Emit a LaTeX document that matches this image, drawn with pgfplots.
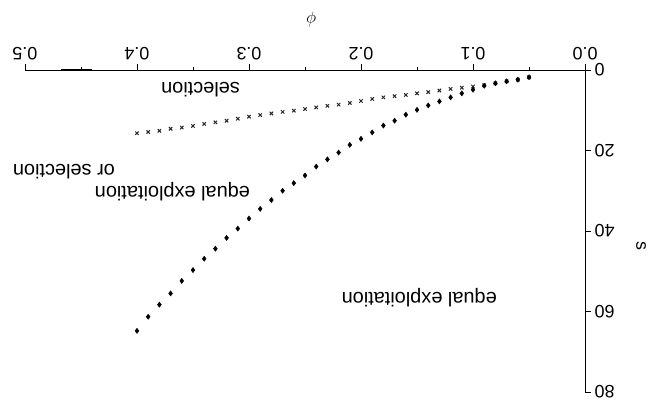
\documentclass[border=0pt]{standalone}
\usepackage{pgfplots}
\pgfplotsset{compat=1.18}
\usepackage{fontspec}
\setmainfont{Liberation Sans}

\pgfplotstableread{
phi s
0.05 1.8
0.06 2.4
0.07 2.8
0.08 3.3
0.09 3.8
0.10 4.1
0.11 4.4
0.12 4.7
0.13 5.1
0.14 5.5
0.15 5.8
0.16 6.2
0.17 6.5
0.18 6.8
0.19 7.2
0.20 7.7
0.21 8.2
0.22 8.6
0.23 8.9
0.24 9.3
0.25 9.7
0.26 10.1
0.27 10.4
0.28 10.8
0.29 11.2
0.30 11.6
0.31 12.1
0.32 12.6
0.33 13.0
0.34 13.4
0.35 13.9
0.36 14.3
0.37 14.6
0.38 15.1
0.39 15.4
0.40 15.7
}\selection

\pgfplotstableread{
phi s
0.05 1.8
0.06 2.4
0.07 2.8
0.08 3.3
0.09 3.9
0.10 4.9
0.11 5.8
0.12 6.8
0.13 7.8
0.14 8.8
0.15 9.9
0.16 11.1
0.17 12.6
0.18 13.8
0.19 15.5
0.20 17.1
0.21 18.6
0.22 20.5
0.23 22.2
0.24 24.0
0.25 26.2
0.26 28.1
0.27 30.0
0.28 32.3
0.29 34.5
0.30 36.9
0.31 39.4
0.32 41.7
0.33 44.4
0.34 46.9
0.35 49.7
0.36 52.4
0.37 55.5
0.38 58.3
0.39 61.3
0.40 64.8
}\equalexp

\begin{document}
\begin{tikzpicture}
\begin{axis}[
  scale only axis, width=560bp, height=322bp,
  xmin=0, xmax=0.5, ymin=0, ymax=80,
  x dir=reverse, y dir=reverse,
  axis x line*=top, axis y line*=right,
  axis line style={-, black, line width=0.8pt},
  xtick={0,0.1,0.2,0.3,0.4,0.5},
  xticklabels={0.0,0.1,0.2,0.3,0.4,0.5},
  minor xtick={0.05,0.15,0.25,0.35,0.45},
  ytick={0,20,40,60,80},
  yticklabels={0,20,40,60,80},
  tick align=outside,
  major tick length=6bp, minor tick length=3bp,
  tick style={black, line width=0.7pt},
  xticklabel style={rotate=180, anchor=north, font=\fontsize{18}{18}\selectfont},
  yticklabel style={rotate=180, anchor=east, font=\fontsize{18}{18}\selectfont},
  clip=false,
]
\addplot[only marks, mark=x, mark size=2.4bp, black!85, mark options={line width=1pt}] table[x=phi,y=s] {\selection};
\addplot[only marks, mark=diamond*, mark size=2.6bp, black] table[x=phi,y=s] {\equalexp};
\addplot[black, line width=2.6pt] coordinates {(0.440,0) (0.468,0)};

\node[rotate=180, anchor=base west, inner sep=0pt, font=\fontsize{20}{20}\selectfont] at (axis cs:0.308,3.2) {selection};
\node[rotate=180, anchor=base west, inner sep=0pt, font=\fontsize{20}{20}\selectfont] at (axis cs:0.299,29.0) {equal exploitation};
\node[rotate=180, anchor=base west, inner sep=0pt, font=\fontsize{20}{20}\selectfont] at (axis cs:0.4196,23.4) {or selection};
\node[rotate=180, anchor=base west, inner sep=0pt, font=\fontsize{20}{20}\selectfont] at (axis cs:0.0786,55.2) {equal exploitation};

\node[rotate=180, font=\fontsize{18}{18}\selectfont] at (axis cs:0.244,-12.4) {$\phi$};
\node[rotate=-90, font=\fontsize{18}{18}\selectfont] at (axis cs:-0.050,43.7) {s};

\coordinate (bbA) at (axis cs:0.5223,-17.39);
\coordinate (bbB) at (axis cs:-0.0580,82.48);
\end{axis}
\pgfresetboundingbox
\path (bbA) rectangle (bbB);
\end{tikzpicture}
\end{document}
